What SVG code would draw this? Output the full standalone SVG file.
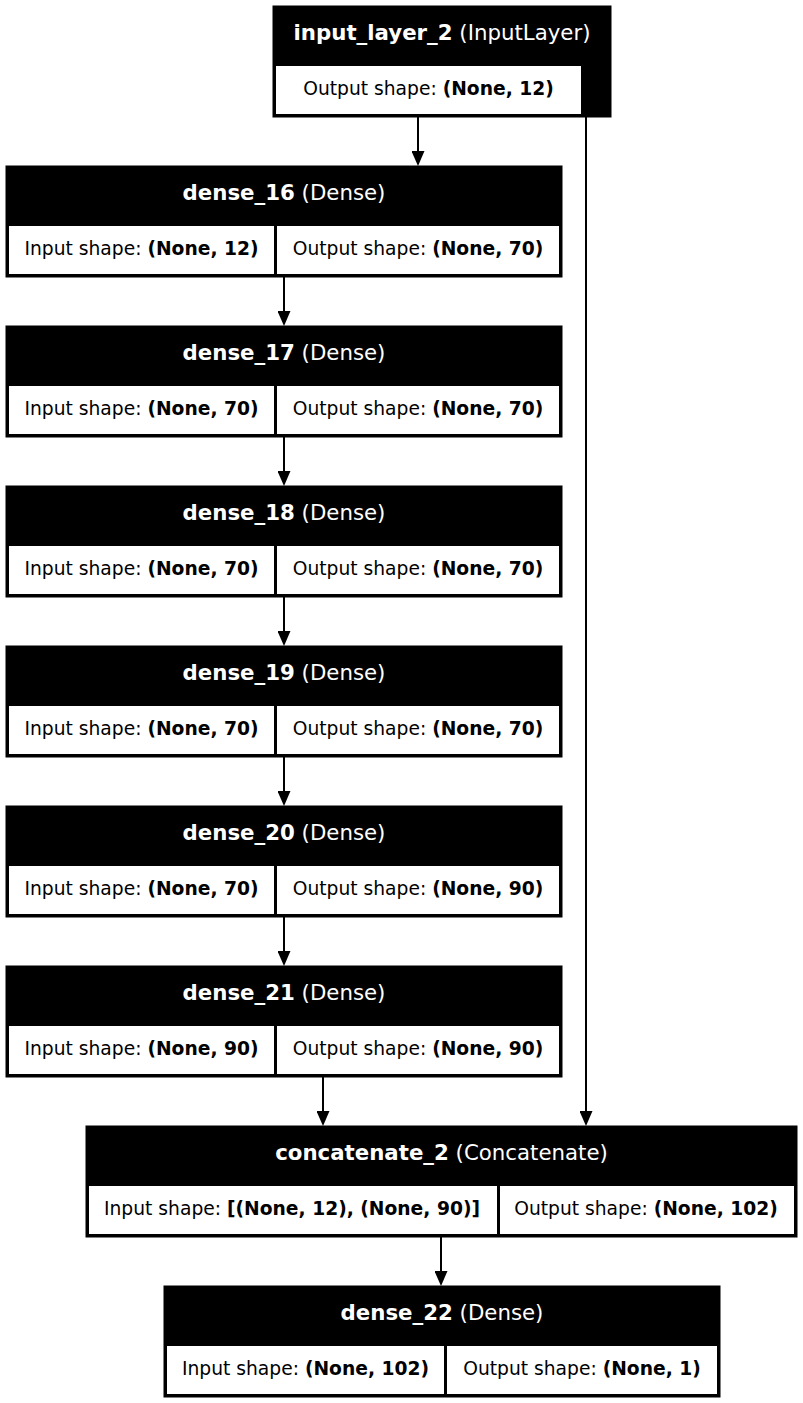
<svg xmlns="http://www.w3.org/2000/svg" width="803" height="1403" viewBox="0 0 803 1403">
<defs>
<style>
.outer{fill:#000;stroke:#000;stroke-width:1}
.cell{fill:#fff;stroke:none}
.title{font-family:"DejaVu Sans",sans-serif;font-size:21.3px;fill:#fff;text-anchor:middle}
.txt{font-family:"DejaVu Sans",sans-serif;font-size:18.7px;fill:#000;text-anchor:middle}
.b{font-weight:bold}
.edge{stroke:#000;stroke-width:2;fill:none;marker-end:url(#arr)}
</style>
<marker id="arr" viewBox="0 0 15 13" markerWidth="15" markerHeight="13" refX="12" refY="6.5" orient="auto" markerUnits="userSpaceOnUse">
<path d="M0,0 L15,6.5 L0,13 z" fill="#000"/>
</marker>
</defs>
<rect width="803" height="1403" fill="#fff"/>
<g id="connectors">
<line class="edge" x1="418" y1="117" x2="418" y2="163"/>
<line class="edge" x1="586" y1="117" x2="586" y2="1123"/>
<line class="edge" x1="284" y1="277" x2="284" y2="323"/>
<line class="edge" x1="284" y1="437" x2="284" y2="483"/>
<line class="edge" x1="284" y1="597" x2="284" y2="643"/>
<line class="edge" x1="284" y1="757" x2="284" y2="803"/>
<line class="edge" x1="284" y1="917" x2="284" y2="963"/>
<line class="edge" x1="323" y1="1077" x2="323" y2="1123"/>
<line class="edge" x1="441" y1="1237" x2="441" y2="1283"/>
</g>
<g id="input_layer_2">
<rect class="outer" x="273" y="6" width="338" height="111"/>
<rect class="cell" x="276" y="66" width="305" height="48"/>
<text class="title" x="442" y="39.5"><tspan class="b">input_layer_2</tspan> (InputLayer)</text>
<text class="txt" x="428.5" y="94.5">Output shape: <tspan class="b">(None, 12)</tspan></text>
</g>
<g id="dense_16">
<rect class="outer" x="6" y="166" width="556" height="111"/>
<rect class="cell" x="9" y="226" width="265" height="48"/>
<rect class="cell" x="277" y="226" width="282" height="48"/>
<text class="title" x="284" y="199.5"><tspan class="b">dense_16</tspan> (Dense)</text>
<text class="txt" x="141.5" y="254.5">Input shape: <tspan class="b">(None, 12)</tspan></text>
<text class="txt" x="418" y="254.5">Output shape: <tspan class="b">(None, 70)</tspan></text>
</g>
<g id="dense_17">
<rect class="outer" x="6" y="326" width="556" height="111"/>
<rect class="cell" x="9" y="386" width="265" height="48"/>
<rect class="cell" x="277" y="386" width="282" height="48"/>
<text class="title" x="284" y="359.5"><tspan class="b">dense_17</tspan> (Dense)</text>
<text class="txt" x="141.5" y="414.5">Input shape: <tspan class="b">(None, 70)</tspan></text>
<text class="txt" x="418" y="414.5">Output shape: <tspan class="b">(None, 70)</tspan></text>
</g>
<g id="dense_18">
<rect class="outer" x="6" y="486" width="556" height="111"/>
<rect class="cell" x="9" y="546" width="265" height="48"/>
<rect class="cell" x="277" y="546" width="282" height="48"/>
<text class="title" x="284" y="519.5"><tspan class="b">dense_18</tspan> (Dense)</text>
<text class="txt" x="141.5" y="574.5">Input shape: <tspan class="b">(None, 70)</tspan></text>
<text class="txt" x="418" y="574.5">Output shape: <tspan class="b">(None, 70)</tspan></text>
</g>
<g id="dense_19">
<rect class="outer" x="6" y="646" width="556" height="111"/>
<rect class="cell" x="9" y="706" width="265" height="48"/>
<rect class="cell" x="277" y="706" width="282" height="48"/>
<text class="title" x="284" y="679.5"><tspan class="b">dense_19</tspan> (Dense)</text>
<text class="txt" x="141.5" y="734.5">Input shape: <tspan class="b">(None, 70)</tspan></text>
<text class="txt" x="418" y="734.5">Output shape: <tspan class="b">(None, 70)</tspan></text>
</g>
<g id="dense_20">
<rect class="outer" x="6" y="806" width="556" height="111"/>
<rect class="cell" x="9" y="866" width="265" height="48"/>
<rect class="cell" x="277" y="866" width="282" height="48"/>
<text class="title" x="284" y="839.5"><tspan class="b">dense_20</tspan> (Dense)</text>
<text class="txt" x="141.5" y="894.5">Input shape: <tspan class="b">(None, 70)</tspan></text>
<text class="txt" x="418" y="894.5">Output shape: <tspan class="b">(None, 90)</tspan></text>
</g>
<g id="dense_21">
<rect class="outer" x="6" y="966" width="556" height="111"/>
<rect class="cell" x="9" y="1026" width="265" height="48"/>
<rect class="cell" x="277" y="1026" width="282" height="48"/>
<text class="title" x="284" y="999.5"><tspan class="b">dense_21</tspan> (Dense)</text>
<text class="txt" x="141.5" y="1054.5">Input shape: <tspan class="b">(None, 90)</tspan></text>
<text class="txt" x="418" y="1054.5">Output shape: <tspan class="b">(None, 90)</tspan></text>
</g>
<g id="concatenate_2">
<rect class="outer" x="86" y="1126" width="711" height="111"/>
<rect class="cell" x="89" y="1186" width="408" height="48"/>
<rect class="cell" x="500" y="1186" width="294" height="48"/>
<text class="title" x="441.5" y="1159.5"><tspan class="b">concatenate_2</tspan> (Concatenate)</text>
<text class="txt" x="292" y="1214.5">Input shape: <tspan class="b">[(None, 12), (None, 90)]</tspan></text>
<text class="txt" x="646" y="1214.5">Output shape: <tspan class="b">(None, 102)</tspan></text>
</g>
<g id="dense_22">
<rect class="outer" x="164" y="1286" width="556" height="111"/>
<rect class="cell" x="167" y="1346" width="277" height="48"/>
<rect class="cell" x="447" y="1346" width="270" height="48"/>
<text class="title" x="442" y="1319.5"><tspan class="b">dense_22</tspan> (Dense)</text>
<text class="txt" x="305.5" y="1374.5">Input shape: <tspan class="b">(None, 102)</tspan></text>
<text class="txt" x="582" y="1374.5">Output shape: <tspan class="b">(None, 1)</tspan></text>
</g>
</svg>
